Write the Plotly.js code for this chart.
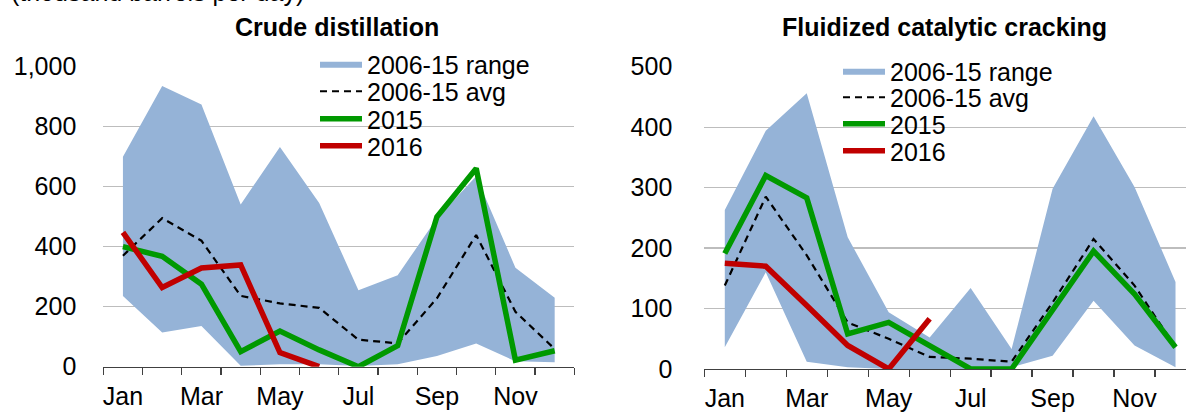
<!DOCTYPE html>
<html><head><meta charset="utf-8">
<script src="https://cdn.plot.ly/plotly-3.0.1.min.js"></script>
<style>html,body{margin:0;padding:0;overflow:hidden;background:#fff}#chart{width:1210px;height:413px}</style>
</head><body><div id="chart"></div>
<script>
// ---- data ----
const months = ['Jan','Feb','Mar','Apr','May','Jun','Jul','Aug','Sep','Oct','Nov','Dec'];
const monthLabels = ['Jan','','Mar','','May','','Jul','','Sep','','Nov',''];

const cdRangeLow  = [236, 114, 136, 3, 8, 8, 2, 8, 36, 77, 18, 15];
const cdRangeHigh = [700, 936, 874, 541, 732, 546, 255, 305, 495, 635, 330, 230];
const cdAvg       = [370, 495, 420, 236, 211, 196, 90, 78, 228, 439, 183, 59];
const cd2015      = [400, 368, 275, 50, 119, 56, 0, 70, 500, 661, 22, 53];
const cd2016      = [448, 264, 329, 339, 47, 0];

const fccRangeLow  = [36, 160, 12, 3, 0, 0, 0, 3, 22, 113, 39, 3];
const fccRangeHigh = [263, 394, 456, 218, 94, 52, 134, 33, 298, 418, 301, 144];
const fccAvg       = [138, 285, 188, 77, 50, 20, 17, 12, 110, 215, 138, 36];
const fcc2015      = [191, 320, 283, 58, 77, 39, 0, 0, 99, 195, 124, 36];
const fcc2016      = [175, 170, 105, 39, 0, 83];

const cdYTicks = [0, 200, 400, 600, 800, 1000];
const cdYText  = ['0', '200', '400', '600', '800', '1,000'];
const fccYTicks = [0, 100, 200, 300, 400, 500];
const fccYText  = ['0', '100', '200', '300', '400', '500'];

const seriesNames = ['2006-15 range', '2006-15 avg', '2015', '2016'];
const titles = ['Crude distillation', 'Fluidized catalytic cracking'];
const unitText = '(thousand barrels per day)';

// ---- styling ----
const W = 1210, H = 413;
const fx = p => p / W;
const fy = p => 1 - p / H;
const FONT = '"Liberation Sans", Arial, sans-serif';
const BAND = '#95b3d7', GREEN = '#009900', RED = '#c00000';

// One (transparent) legend per entry so the rows can sit as tightly as in the reference.
function panel(xa, ya, lgBase, low, high, avg, s15, s16) {
  const lg = row => { const n = lgBase + row; return n === 1 ? 'legend' : 'legend' + n; };
  return [
    {x: months, y: low, xaxis: xa, yaxis: ya, type: 'scatter', mode: 'lines',
     line: {width: 0, color: BAND}, showlegend: false, hoverinfo: 'skip', legend: lg(0)},
    {x: months, y: high, xaxis: xa, yaxis: ya, type: 'scatter', mode: 'lines', fill: 'tonexty',
     fillcolor: BAND, line: {width: 0, color: BAND}, name: seriesNames[0], legend: lg(0)},
    {x: months, y: avg, xaxis: xa, yaxis: ya, type: 'scatter', mode: 'lines',
     line: {width: 2.2, color: '#000', dash: '7px,5px'}, name: seriesNames[1], legend: lg(1)},
    {x: months, y: s15, xaxis: xa, yaxis: ya, type: 'scatter', mode: 'lines',
     line: {width: 5.5, color: GREEN}, name: seriesNames[2], legend: lg(2)},
    {x: months.slice(0, s16.length), y: s16, xaxis: xa, yaxis: ya, type: 'scatter', mode: 'lines',
     line: {width: 5.5, color: RED}, name: seriesNames[3], legend: lg(3)}
  ];
}

const data = [
  ...panel('x', 'y', 1, cdRangeLow, cdRangeHigh, cdAvg, cd2015, cd2016),
  ...panel('x2', 'y2', 5, fccRangeLow, fccRangeHigh, fccAvg, fcc2015, fcc2016)
];

function xAxis(d0, d1, anchor) {
  return {domain: [fx(d0), fx(d1)], anchor: anchor, type: 'category', range: [-0.5, 11.5],
    tickmode: 'array', tickvals: months, ticktext: monthLabels, tickson: 'boundaries',
    tickangle: 0, ticks: 'outside', ticklen: 7, tickwidth: 1.3, tickcolor: '#404040',
    showline: true, linecolor: '#404040', linewidth: 1.3, showgrid: false, zeroline: false,
    tickfont: {family: FONT, size: 25, color: '#000'}, ticklabelstandoff: 7, fixedrange: true};
}
function yAxis(bottom, top, anchor, range, tv, tt, standoff) {
  return {domain: [fy(bottom), fy(top)], anchor: anchor, range: range,
    tickmode: 'array', tickvals: tv, ticktext: tt, ticks: '', showline: false,
    showgrid: true, gridcolor: '#bdbdbd', gridwidth: 1.3, zeroline: false,
    tickfont: {family: FONT, size: 25, color: '#000'}, ticklabelstandoff: standoff, fixedrange: true};
}
function legendAt(xp, centerY) {
  return {x: fx(xp), y: fy(centerY - 22), xanchor: 'left', yanchor: 'top',
    bgcolor: 'rgba(0,0,0,0)', borderwidth: 0,
    font: {family: FONT, size: 25, color: '#000'}, itemwidth: 42,
    traceorder: 'normal', tracegroupgap: 0};
}
// white legend backdrop: hides gridlines only (drawn between gridlines and traces)
function backdrop(x0, x1, y0, y1) {
  return {type: 'rect', xref: 'paper', yref: 'paper', x0: fx(x0), x1: fx(x1), y0: fy(y1), y1: fy(y0),
    fillcolor: '#fff', line: {width: 0}, layer: 'between'};
}

const layout = {
  width: W, height: H, margin: {l: 0, r: 0, t: 0, b: 0},
  paper_bgcolor: '#fff', plot_bgcolor: '#fff', showlegend: true,
  font: {family: FONT, color: '#000'},
  xaxis: xAxis(103.3, 574.3, 'y'),
  yaxis: yAxis(366.7, 66.7, 'x', [0, 1000], cdYTicks, cdYText, 26),
  xaxis2: xAxis(704.3, 1196, 'y2'),
  yaxis2: yAxis(369, 66.7, 'x2', [0, 500], fccYTicks, fccYText, 31),
  legend:  legendAt(315, 63),
  legend2: legendAt(315, 90.5),
  legend3: legendAt(315, 118),
  legend4: legendAt(315, 145),
  legend5: legendAt(838, 70),
  legend6: legendAt(838, 96.5),
  legend7: legendAt(838, 123),
  legend8: legendAt(838, 150),
  shapes: [backdrop(310, 544, 52, 162), backdrop(833, 1062, 56, 166)],
  annotations: [
    {text: '<b>' + titles[0] + '</b>', xref: 'paper', yref: 'paper', x: fx(233), y: fy(27),
     xanchor: 'left', yanchor: 'middle', showarrow: false, font: {family: FONT, size: 25, color: '#000'}},
    {text: '<b>' + titles[1] + '</b>', xref: 'paper', yref: 'paper', x: fx(780), y: fy(27),
     xanchor: 'left', yanchor: 'middle', showarrow: false, font: {family: FONT, size: 25, color: '#000'}},
    {text: unitText, xref: 'paper', yref: 'paper', x: fx(9), y: fy(8),
     xanchor: 'left', yanchor: 'bottom', showarrow: false, font: {family: FONT, size: 25, color: '#000'}}
  ]
};

Plotly.newPlot('chart', data, layout, {staticPlot: true, displayModeBar: false});
</script></body></html>
